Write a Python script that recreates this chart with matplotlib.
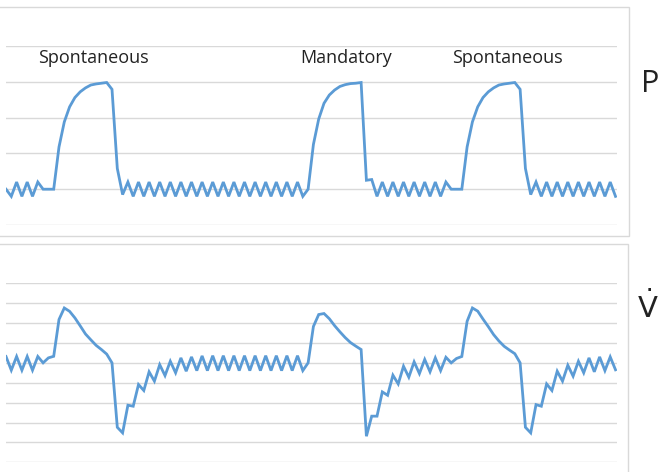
import matplotlib
matplotlib.use("Agg")
import matplotlib.pyplot as plt
from matplotlib.patches import Rectangle

# sample index (first sample sits on the left edge of the plot area)
samples = list(range(-1, 115))

# pressure trace (top)
pressure = [
    0.0, -0.2, 0.2, -0.2, 0.2, -0.2, 0.2, 0.0, 0.0, 0.0,
    1.18, 1.88, 2.30, 2.56, 2.72, 2.83, 2.91, 2.94, 2.96, 2.98,
    2.79, 0.58, -0.15, 0.2, -0.2, 0.2, -0.2, 0.2, -0.2, 0.2,
    -0.2, 0.2, -0.2, 0.2, -0.2, 0.2, -0.2, 0.2, -0.2, 0.2,
    -0.2, 0.2, -0.2, 0.2, -0.2, 0.2, -0.2, 0.2, -0.2, 0.2,
    -0.2, 0.2, -0.2, 0.2, -0.2, 0.2, -0.2, 0.0, 1.25, 1.96,
    2.40, 2.63, 2.77, 2.87, 2.92, 2.95, 2.96, 2.98, 0.25, 0.27,
    -0.2, 0.2, -0.2, 0.2, -0.2, 0.2, -0.2, 0.2, -0.2, 0.2,
    -0.2, 0.2, -0.2, 0.2, 0.0, 0.0, 0.0, 1.18, 1.88, 2.30,
    2.56, 2.72, 2.83, 2.91, 2.94, 2.96, 2.98, 2.79, 0.58, -0.15,
    0.2, -0.2, 0.2, -0.2, 0.2, -0.2, 0.2, -0.2, 0.2, -0.2,
    0.2, -0.2, 0.2, -0.2, 0.2, -0.2,
]

# flow trace (bottom)
flow = [
    0.32, -0.37, 0.32, -0.37, 0.32, -0.37, 0.32, 0.0, 0.25, 0.33,
    2.18, 2.76, 2.59, 2.26, 1.86, 1.45, 1.16, 0.88, 0.67, 0.44,
    0.0, -3.24, -3.52, -2.13, -2.18, -1.09, -1.39, -0.45, -0.92, -0.09,
    -0.64, 0.08, -0.5, 0.25, -0.42, 0.3, -0.39, 0.35, -0.39, 0.36,
    -0.39, 0.36, -0.39, 0.36, -0.39, 0.36, -0.39, 0.36, -0.39, 0.36,
    -0.39, 0.36, -0.39, 0.36, -0.39, 0.36, -0.39, 0.0, 1.83, 2.43,
    2.48, 2.22, 1.87, 1.56, 1.27, 1.02, 0.84, 0.67, -3.69, -2.68,
    -2.68, -1.46, -1.63, -0.62, -1.06, -0.17, -0.72, 0.05, -0.54, 0.17,
    -0.45, 0.25, -0.39, 0.28, 0.0, 0.22, 0.32, 2.09, 2.76, 2.6,
    2.2, 1.82, 1.42, 1.1, 0.83, 0.64, 0.46, 0.0, -3.24, -3.52,
    -2.1, -2.18, -1.06, -1.39, -0.42, -0.92, -0.12, -0.67, 0.08, -0.5,
    0.25, -0.45, 0.3, -0.39, 0.3, -0.35,
]

breath_labels = ["Spontaneous", "Mandatory", "Spontaneous"]
breath_label_x = [93, 346, 507]   # pixel centres

W, H = 658, 472
BLUE = "#5b9bd5"
GRID = "#d9d9d9"

plt.rcParams["mathtext.fontset"] = "dejavusans"

fig = plt.figure(figsize=(W / 100, H / 100), dpi=100)


def px_axes(x0, y0, x1, y1):
    # axes from pixel box (y measured from top)
    return fig.add_axes([x0 / W, 1 - y1 / H, (x1 - x0) / W, (y1 - y0) / H])


def style(ax, lo, hi):
    ax.set_xlim(-1, 114.28)
    ax.set_ylim(lo, hi)
    ax.set_yticks(range(lo, hi + 1))
    ax.grid(axis="y", color=GRID, lw=1.0)
    ax.set_axisbelow(True)
    ax.tick_params(left=False, bottom=False, labelleft=False, labelbottom=False)
    for s in ax.spines.values():
        s.set_visible(False)


# chart borders
fig.add_artist(Rectangle((-5 / W, 1 - 236 / H), 634 / W, 229.5 / H,
                         transform=fig.transFigure, fill=False, ec=GRID, lw=1.0))
fig.add_artist(Rectangle((-5 / W, 1 - 490 / H), 633 / W, 246 / H,
                         transform=fig.transFigure, fill=False, ec=GRID, lw=1.0))

ax1 = px_axes(6, 46, 617, 225)
style(ax1, -1, 4)
ax1.plot(samples, pressure, color=BLUE, lw=2.0, solid_joinstyle="miter")

ax2 = px_axes(6, 283.3, 617, 462.3)
style(ax2, -5, 4)
ax2.plot(samples, flow, color=BLUE, lw=2.0, solid_joinstyle="miter")

for lab, x in zip(breath_labels, breath_label_x):
    fig.text(x / W, 1 - 58 / H, lab, ha="center", va="center",
             fontsize=13, family="Open Sans", color="#222222")

fig.text(641 / W, 1 - 92 / H, "P", ha="left", va="baseline",
         fontsize=22, family="Open Sans", color="#222222")
fig.text(637 / W, 1 - 318 / H, r"$\dot{\mathsf{V}}$", ha="left", va="baseline",
         fontsize=21, color="#222222")

fig.savefig("out.png", dpi=100)
